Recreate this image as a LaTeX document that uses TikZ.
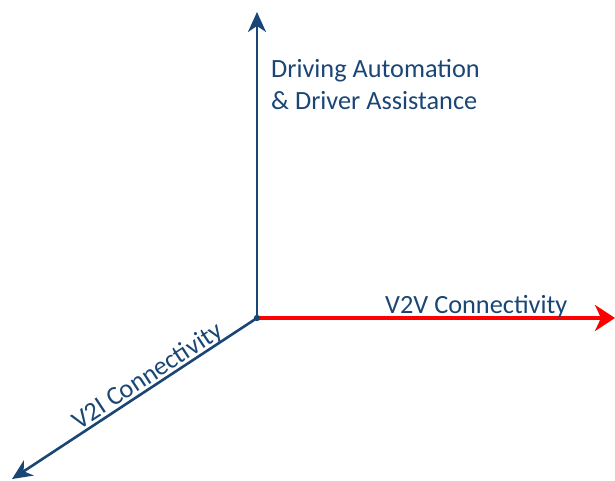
\documentclass[tikz,border=0pt]{standalone}
\usepackage{fontspec}
\setmainfont{Carlito}
\usetikzlibrary{arrows.meta}
\definecolor{axisblue}{HTML}{1A4676}
\definecolor{axisred}{HTML}{FF0000}
\begin{document}
\begin{tikzpicture}[x=1pt,y=-1pt,
  axis/.style={draw=axisblue,line width=2.6pt,
    -{Stealth[length=20pt,width=18pt,inset=6pt]}},
  redaxis/.style={draw=axisred,line width=4.5pt,
    -{Stealth[length=20pt,width=26pt,inset=6pt]}},
  lbl/.style={text=axisblue,font=\fontsize{26.3}{32}\selectfont,inner sep=0pt}]
\useasboundingbox (0,0) rectangle (615,481);
\coordinate (o) at (257,318);
\coordinate (up) at (257,12);
\coordinate (right) at (615,318);
\coordinate (dl) at (12,479);
\draw[axis] (o) -- (up);
\draw[axis] (o) -- (dl);
\draw[redaxis] (o) -- (right);
\fill[axisblue] (o) circle (3.2pt);
% the base anchor of a two-line node sits on its last line
\node[lbl,anchor=base west,align=left] (dda) at (271,110)
  {Driving Automation\\\& Driver Assistance};
\node[lbl,anchor=base west] (v2v) at (385,313) {V2V Connectivity};
\node[lbl,anchor=base west,rotate=33.3] (v2i) at (79,430.5) {V2I Connectivity};
\end{tikzpicture}
\end{document}
